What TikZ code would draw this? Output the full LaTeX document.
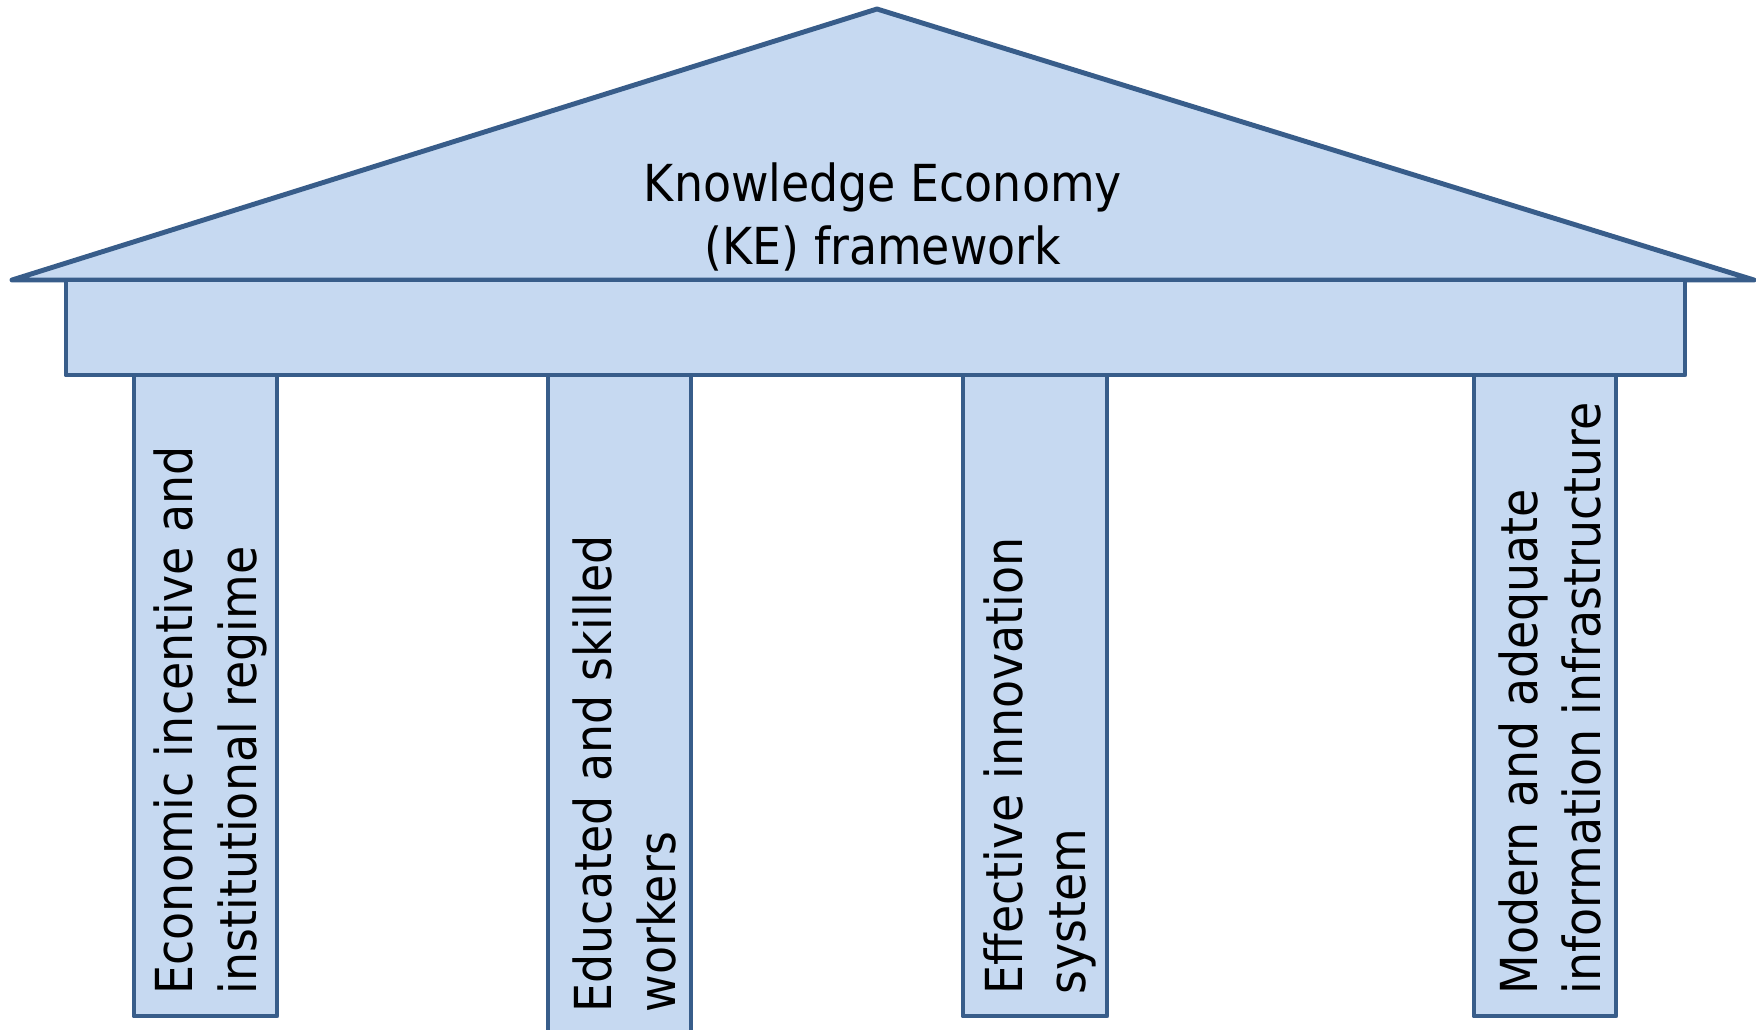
\documentclass[tikz,border=0pt]{standalone}
\usepackage{fontspec}
\setmainfont{DejaVu Sans Condensed}
\usepackage{tikz}
\definecolor{partfill}{HTML}{C6D9F1}
\definecolor{partline}{HTML}{385D8A}

\begin{document}
\begin{tikzpicture}[x=0.01cm,y=-0.01cm,
  part/.style={fill=partfill,draw=partline,line width=1.4pt,line join=round},
  bigtext/.style={inner sep=0pt,font=\fontsize{14.5pt}{18.1pt}\selectfont},
  columntext/.style={bigtext,rotate=90,anchor=west,align=left}]
\useasboundingbox (0,0) rectangle (1756,1030);
\clip (0,0) rectangle (1756,1030);
% the four columns, text reads upwards from the foot
\foreach \xl/\xr/\yb/\nm/\txt in {
  134/277/1016/incentive/{Economic incentive and\\institutional regime},
  548/691/1034/workers/{Educated and skilled\\workers},
  963/1107/1016/innovation/{Effective innovation\\system},
  1474/1616/1016/infra/{Modern and adequate\\information infrastructure}}
{
  \draw[part] (\xl,375) rectangle (\xr,\yb);
  \node[columntext] (\nm) at ({(\xl+\xr)/2+5},{\yb-21}) {\txt};
}
% roof and beam
\draw[part] (12,280) -- (877,9) -- (1754,280) -- cycle;
\draw[part] (66,280) rectangle (1685,375);
\node[bigtext,align=center] (title) at (883,217) {Knowledge Economy\\(KE) framework};
\end{tikzpicture}
\end{document}
